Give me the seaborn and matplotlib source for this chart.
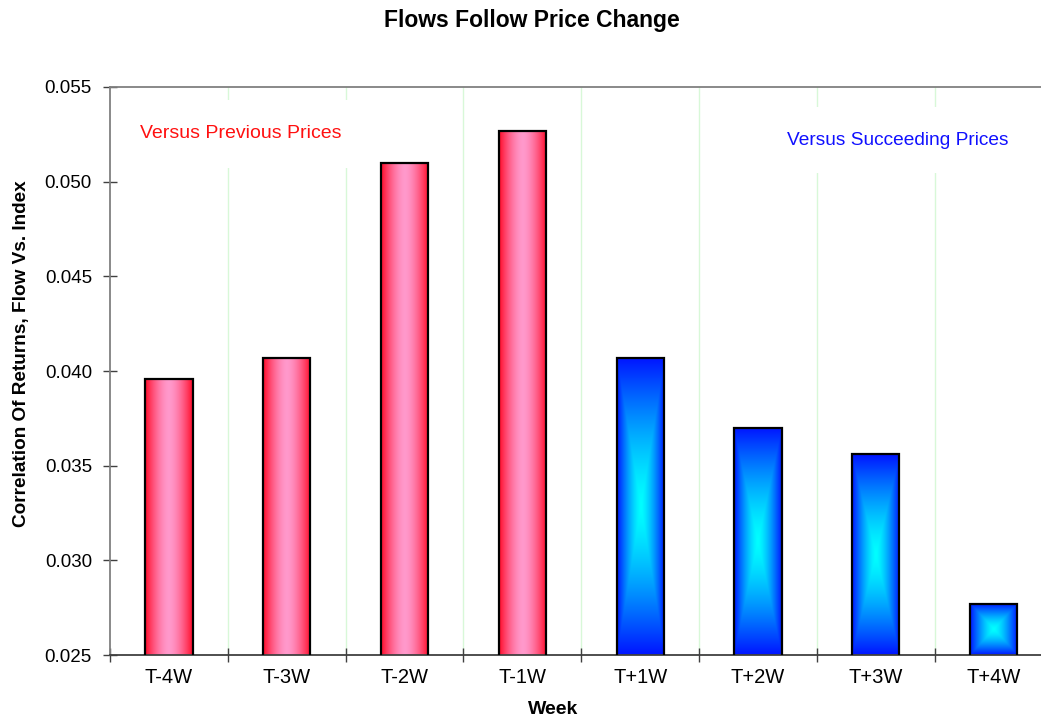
import numpy as np
import pandas as pd
import matplotlib
matplotlib.use("Agg")
import matplotlib.pyplot as plt
import seaborn as sns

weeks = ["T-4W", "T-3W", "T-2W", "T-1W", "T+1W", "T+2W", "T+3W", "T+4W"]
correlation = [0.0396, 0.0407, 0.0510, 0.0527, 0.0407, 0.0370, 0.0356, 0.0277]
side = ["prev", "prev", "prev", "prev", "succ", "succ", "succ", "succ"]
y_ticks = [0.025, 0.030, 0.035, 0.040, 0.045, 0.050, 0.055]

df = pd.DataFrame({"Week": weeks, "corr": correlation, "side": side})

sns.set_theme(style="white")
plt.rcParams["font.family"] = ["Liberation Sans", "DejaVu Sans"]
plt.rcParams["text.color"] = "black"
plt.rcParams["axes.labelcolor"] = "black"
plt.rcParams["xtick.color"] = "black"
plt.rcParams["ytick.color"] = "black"

fig = plt.figure(figsize=(10.41, 7.19), dpi=100)
ax = fig.add_axes([0.1057, 0.089, 0.9054, 0.790])

sns.barplot(data=df, x="Week", y="corr", width=0.4, color="white",
            edgecolor="black", linewidth=1.6, ax=ax, zorder=3)

ax.set_ylim(0.025, 0.055)
ax.set_xlim(-0.5, len(weeks) - 0.5)


def red_fill(n=256):
    x = np.linspace(-1, 1, n)
    t = np.abs(x)[None, :] * np.ones((n, 1))
    f = np.clip(t, 0, 1) ** 1.6
    center = np.array([255, 153, 204]) / 255
    edge = np.array([255, 10, 40]) / 255
    return center + (edge - center) * f[..., None]


def blue_fill(n=256):
    x = np.linspace(-1, 1, n)
    X, Y = np.meshgrid(x, x)
    t = np.maximum(np.abs(X), np.abs(Y))
    f = np.clip(t, 0, 1) ** 1.4
    center = np.array([0, 255, 255]) / 255
    edge = np.array([0, 20, 255]) / 255
    return center + (edge - center) * f[..., None]


fills = {"prev": red_fill(), "succ": blue_fill()}
for patch, s in zip(ax.patches, side):
    x0, y0 = patch.get_x(), patch.get_y()
    w, h = patch.get_width(), patch.get_height()
    y_lo = max(y0, 0.025)
    img = ax.imshow(fills[s], extent=[x0, x0 + w, y_lo, y0 + h],
                    aspect="auto", origin="lower", zorder=2.5,
                    interpolation="bilinear")
    img.set_clip_path(patch)
    patch.set_facecolor("none")

ax.set_xlim(-0.5, len(weeks) - 0.5)
ax.set_ylim(0.025, 0.055)

# light green separators between weeks
bounds = np.arange(0.5, len(weeks) - 0.5, 1.0)
for b in bounds:
    ax.axvline(b, color="#d8f8d8", lw=1.0, zorder=0.5)

ax.set_yticks(y_ticks)
ax.set_yticklabels([f"{v:.3f}" for v in y_ticks])
ax.set_xticks(range(len(weeks)))
ax.set_xticklabels(weeks)
ax.set_xticks(np.arange(-0.5, len(weeks) + 0.5, 1.0), minor=True)
ax.tick_params(axis="x", which="major", length=0, labelsize=14.5, pad=9,
               labelcolor="black")
ax.tick_params(axis="x", which="minor", length=10, direction="inout",
               width=1, color="#404040", bottom=True)
ax.tick_params(axis="y", length=10, direction="inout", width=1,
               color="#404040", labelsize=13.5, pad=8, left=True,
               labelcolor="black")

for name in ["left", "top"]:
    ax.spines[name].set_color("#808080")
    ax.spines[name].set_linewidth(1.3)
ax.spines["bottom"].set_color("#404040")
ax.spines["bottom"].set_linewidth(1.3)
ax.spines["right"].set_visible(False)

ax.set_xlabel("")
ax.set_ylabel("")
fig.text(553 / 1041, 1 - 710 / 719, "Week", ha="center", va="center",
         fontsize=14, fontweight="bold")
fig.text(22 / 1041, 1 - 354 / 719, "Correlation Of Returns, Flow Vs. Index",
         ha="center", va="center", rotation=90, fontsize=13.7,
         fontweight="bold")

fig.text(532 / 1041, 1 - 20 / 719, "Flows Follow Price Change", ha="center",
         va="center", fontsize=16.5, fontweight="bold")

ax.text(-0.245, 0.05252, "Versus Previous Prices", color="#ff1010",
        fontsize=14, va="center", ha="left", zorder=1,
        bbox=dict(boxstyle="square,pad=1.3", fc="white", ec="none"))
ax.text(5.247, 0.0522, "Versus Succeeding Prices", color="#1010ff",
        fontsize=13.8, va="center", ha="left", zorder=1,
        bbox=dict(boxstyle="square,pad=1.3", fc="white", ec="none"))

fig.savefig("out.png", dpi=100)
